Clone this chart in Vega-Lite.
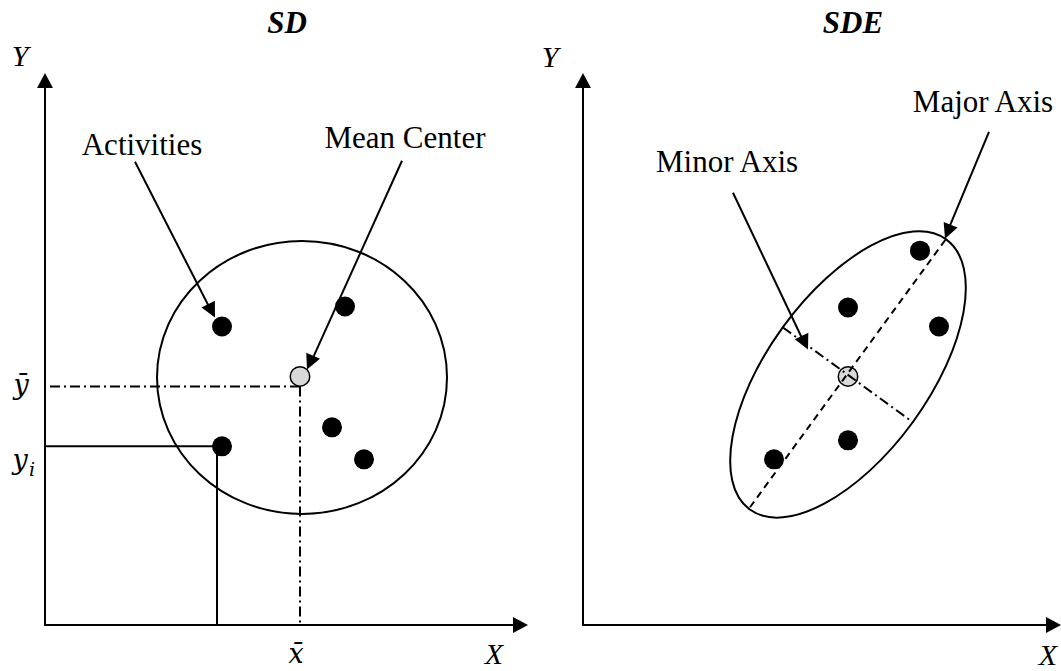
{
  "$schema": "https://vega.github.io/schema/vega-lite/v6.json",
  "width": 1061,
  "height": 671,
  "autosize": {"type": "fit", "contains": "padding"},
  "padding": 0,
  "background": "white",
  "config": {"view": {"stroke": null}},
  "datasets": {
    "segments": [
      {"kind": "solid", "x": 45, "y": 626, "x2": 45, "y2": 82},
      {"kind": "solid", "x": 44, "y": 626, "x2": 520, "y2": 626},
      {"kind": "solid", "x": 583, "y": 626, "x2": 583, "y2": 82},
      {"kind": "solid", "x": 582, "y": 626, "x2": 1054, "y2": 626},
      {"kind": "solid", "x": 45, "y": 447, "x2": 222, "y2": 447},
      {"kind": "solid", "x": 217, "y": 447, "x2": 217, "y2": 626},
      {"kind": "solid", "x": 135, "y": 162, "x2": 212, "y2": 313},
      {"kind": "solid", "x": 402, "y": 161, "x2": 310, "y2": 365},
      {"kind": "solid", "x": 989, "y": 132, "x2": 947, "y2": 233},
      {"kind": "solid", "x": 733, "y": 193, "x2": 805, "y2": 345},
      {"kind": "dashdot", "x": 50, "y": 387, "x2": 300, "y2": 387},
      {"kind": "dashdot", "x": 300, "y": 387, "x2": 300, "y2": 624},
      {"kind": "major", "x": 750, "y": 508, "x2": 947, "y2": 238},
      {"kind": "minor", "x": 783, "y": 328, "x2": 913, "y2": 423}
    ],
    "dots": [
      {"kind": "activity", "x": 222, "y": 327},
      {"kind": "activity", "x": 345, "y": 307},
      {"kind": "activity", "x": 332, "y": 428},
      {"kind": "activity", "x": 364, "y": 460},
      {"kind": "activity", "x": 222, "y": 447},
      {"kind": "mean", "x": 300, "y": 377},
      {"kind": "activity", "x": 920, "y": 251},
      {"kind": "activity", "x": 848, "y": 308},
      {"kind": "activity", "x": 939, "y": 327},
      {"kind": "activity", "x": 848, "y": 441},
      {"kind": "activity", "x": 774, "y": 460},
      {"kind": "mean", "x": 848, "y": 377}
    ],
    "ellipses": [
      {"kind": "sd", "x": 302, "y": 378},
      {"kind": "sde", "x": 848, "y": 375}
    ],
    "heads": [
      {"name": "up", "x": 45, "y": 73},
      {"name": "up", "x": 583, "y": 73},
      {"name": "right", "x": 528, "y": 626},
      {"name": "right", "x": 1061, "y": 626},
      {"name": "activities", "x": 215, "y": 318},
      {"name": "mean", "x": 307, "y": 370},
      {"name": "major", "x": 945, "y": 239},
      {"name": "minor", "x": 808, "y": 350}
    ],
    "labels": [
      {"kind": "title", "text": "SD", "x": 287, "y": 33},
      {"kind": "title", "text": "SDE", "x": 853, "y": 33},
      {"kind": "axis", "text": "Y", "x": 20, "y": 66},
      {"kind": "axis", "text": "Y", "x": 550, "y": 67},
      {"kind": "axis", "text": "X", "x": 494, "y": 665},
      {"kind": "axis", "text": "X", "x": 1048, "y": 666},
      {"kind": "callout", "text": "Activities", "x": 142, "y": 155},
      {"kind": "callout", "text": "Mean Center", "x": 405, "y": 148},
      {"kind": "callout", "text": "Minor Axis", "x": 727, "y": 172},
      {"kind": "callout", "text": "Major Axis", "x": 983, "y": 112},
      {"kind": "math", "text": "x̄", "x": 296, "y": 664},
      {"kind": "math", "text": "ȳ", "x": 21, "y": 395},
      {"kind": "math", "text": "y", "x": 20, "y": 470},
      {"kind": "sub", "text": "i", "x": 32, "y": 477}
    ]
  },
  "encoding": {
    "x": {"field": "x", "type": "quantitative", "scale": {"domain": [0, 1061], "nice": false, "zero": false}, "axis": null},
    "y": {"field": "y", "type": "quantitative", "scale": {"domain": [0, 671], "nice": false, "zero": false, "reverse": true}, "axis": null}
  },
  "layer": [
    {
      "data": {"name": "ellipses"},
      "transform": [{"filter": "datum.kind === 'sd'"}],
      "mark": {"type": "point", "shape": "M 1 0 C 1 0.5197 0.5523 0.941 0 0.941 C -0.5523 0.941 -1 0.5197 -1 0 C -1 -0.5197 -0.5523 -0.941 0 -0.941 C 0.5523 -0.941 1 -0.5197 1 0 Z", "size": 84100, "filled": false, "stroke": "black", "strokeWidth": 2, "opacity": 1}
    },
    {
      "data": {"name": "ellipses"},
      "transform": [{"filter": "datum.kind === 'sde'"}],
      "mark": {"type": "point", "shape": "M 1 0 C 1 0.2662 0.5523 0.482 0 0.482 C -0.5523 0.482 -1 0.2662 -1 0 C -1 -0.2662 -0.5523 -0.482 0 -0.482 C 0.5523 -0.482 1 -0.2662 1 0 Z", "size": 111556, "angle": 306, "filled": false, "stroke": "black", "strokeWidth": 2, "opacity": 1}
    },
    {
      "data": {"name": "segments"},
      "transform": [{"filter": "datum.kind === 'solid'"}],
      "mark": {"type": "rule", "color": "black", "strokeWidth": 2},
      "encoding": {"x2": {"field": "x2"}, "y2": {"field": "y2"}}
    },
    {
      "data": {"name": "segments"},
      "transform": [{"filter": "datum.kind === 'dashdot'"}],
      "mark": {"type": "rule", "color": "black", "strokeWidth": 2, "strokeDash": [10, 4, 2, 4]},
      "encoding": {"x2": {"field": "x2"}, "y2": {"field": "y2"}}
    },
    {
      "data": {"name": "dots"},
      "transform": [{"filter": "datum.kind === 'activity'"}],
      "mark": {"type": "point", "shape": "circle", "size": 400, "filled": true, "color": "black", "opacity": 1}
    },
    {
      "data": {"name": "dots"},
      "transform": [{"filter": "datum.kind === 'mean'"}],
      "mark": {"type": "point", "shape": "circle", "size": 380, "filled": true, "fill": "#d9d9d9", "stroke": "black", "strokeWidth": 1.5, "opacity": 1}
    },
    {
      "data": {"name": "segments"},
      "transform": [{"filter": "datum.kind === 'major'"}],
      "mark": {"type": "rule", "color": "black", "strokeWidth": 2, "strokeDash": [7, 5]},
      "encoding": {"x2": {"field": "x2"}, "y2": {"field": "y2"}}
    },
    {
      "data": {"name": "segments"},
      "transform": [{"filter": "datum.kind === 'minor'"}],
      "mark": {"type": "rule", "color": "black", "strokeWidth": 2, "strokeDash": [10, 4, 2, 4]},
      "encoding": {"x2": {"field": "x2"}, "y2": {"field": "y2"}}
    },
    {
      "data": {"name": "heads"},
      "transform": [{"filter": "datum.name === 'up'"}],
      "mark": {"type": "point", "shape": "M 0 0 L -1 -0.53 L -1 0.53 Z", "size": 900, "angle": 270, "filled": true, "color": "black", "opacity": 1}
    },
    {
      "data": {"name": "heads"},
      "transform": [{"filter": "datum.name === 'right'"}],
      "mark": {"type": "point", "shape": "M 0 0 L -1 -0.53 L -1 0.53 Z", "size": 900, "angle": 0, "filled": true, "color": "black", "opacity": 1}
    },
    {
      "data": {"name": "heads"},
      "transform": [{"filter": "datum.name === 'activities'"}],
      "mark": {"type": "point", "shape": "M 0 0 L -1 -0.5 L -1 0.5 Z", "size": 900, "angle": 63, "filled": true, "color": "black", "opacity": 1}
    },
    {
      "data": {"name": "heads"},
      "transform": [{"filter": "datum.name === 'mean'"}],
      "mark": {"type": "point", "shape": "M 0 0 L -1 -0.5 L -1 0.5 Z", "size": 900, "angle": 114, "filled": true, "color": "black", "opacity": 1}
    },
    {
      "data": {"name": "heads"},
      "transform": [{"filter": "datum.name === 'major'"}],
      "mark": {"type": "point", "shape": "M 0 0 L -1 -0.5 L -1 0.5 Z", "size": 900, "angle": 112, "filled": true, "color": "black", "opacity": 1}
    },
    {
      "data": {"name": "heads"},
      "transform": [{"filter": "datum.name === 'minor'"}],
      "mark": {"type": "point", "shape": "M 0 0 L -1 -0.5 L -1 0.5 Z", "size": 900, "angle": 64.5, "filled": true, "color": "black", "opacity": 1}
    },
    {
      "data": {"name": "labels"},
      "transform": [{"filter": "datum.kind === 'title'"}],
      "mark": {"type": "text", "font": "Liberation Serif", "fontSize": 31, "fontWeight": "bold", "fontStyle": "italic", "align": "center", "baseline": "alphabetic", "color": "black"},
      "encoding": {"text": {"field": "text"}}
    },
    {
      "data": {"name": "labels"},
      "transform": [{"filter": "datum.kind === 'axis'"}],
      "mark": {"type": "text", "font": "Liberation Serif", "fontSize": 30, "fontStyle": "italic", "align": "center", "baseline": "alphabetic", "color": "black"},
      "encoding": {"text": {"field": "text"}}
    },
    {
      "data": {"name": "labels"},
      "transform": [{"filter": "datum.kind === 'callout'"}],
      "mark": {"type": "text", "font": "Liberation Serif", "fontSize": 31, "align": "center", "baseline": "alphabetic", "color": "black"},
      "encoding": {"text": {"field": "text"}}
    },
    {
      "data": {"name": "labels"},
      "transform": [{"filter": "datum.kind === 'math'"}],
      "mark": {"type": "text", "font": "DejaVu Serif", "fontSize": 27, "fontStyle": "italic", "align": "center", "baseline": "alphabetic", "color": "black"},
      "encoding": {"text": {"field": "text"}}
    },
    {
      "data": {"name": "labels"},
      "transform": [{"filter": "datum.kind === 'sub'"}],
      "mark": {"type": "text", "font": "DejaVu Serif", "fontSize": 19, "fontStyle": "italic", "align": "center", "baseline": "alphabetic", "color": "black"},
      "encoding": {"text": {"field": "text"}}
    }
  ]
}
